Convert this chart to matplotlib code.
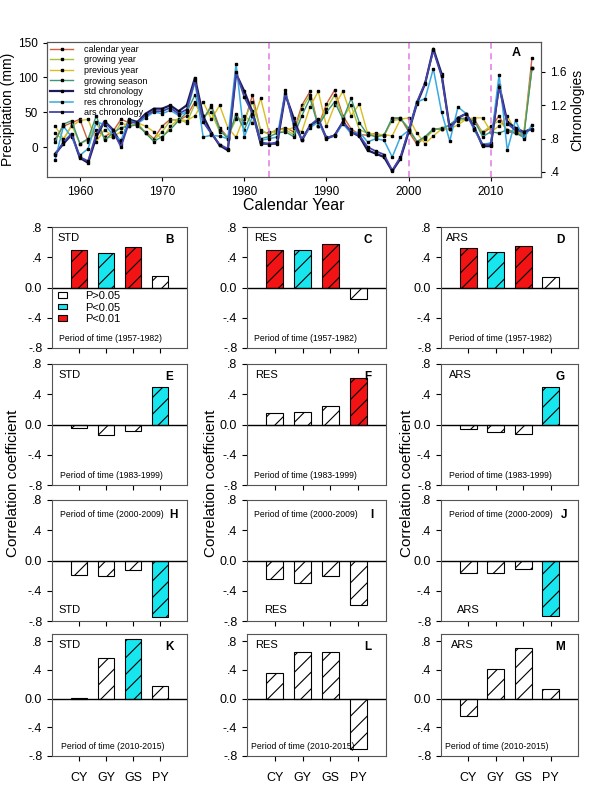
import matplotlib
matplotlib.use("Agg")
import matplotlib.pyplot as plt
from matplotlib.patches import Patch
from matplotlib.ticker import FuncFormatter

plt.rcParams['font.family'] = ['Liberation Sans', 'DejaVu Sans']
plt.rcParams['hatch.linewidth'] = 0.8

W, H = 600, 789

# --- panel A: precipitation (mm, left axis) and chronologies (right axis) ---
years = list(range(1957, 2016))
calendar_year = [12, 30, 35, 40, 8, 25, 15, 22, 40, 35, 30, 22, 12, 30, 40,
                 38, 45, 65, 40, 60, 28, 14, 45, 35, 75, 22, 20, 24, 28, 22,
                 60, 80, 30, 62, 82, 45, 26, 18, 17, 20, 16, 40, 42, 22, 4,
                 14, 26, 26, 32, 40, 42, 40, 20, 28, 45, 22, 20, 16, 128]
growing_year = [20, 10, 32, 5, 10, 35, 12, 15, 35, 30, 35, 20, 10, 22, 38,
                40, 35, 62, 45, 50, 22, 15, 40, 40, 65, 25, 18, 26, 25, 18,
                55, 75, 30, 55, 75, 42, 60, 25, 20, 15, 18, 38, 40, 28, 8,
                12, 24, 28, 30, 38, 40, 35, 22, 30, 38, 25, 22, 18, 113]
previous_year = [30, 12, 30, 38, 40, 8, 25, 15, 22, 40, 35, 30, 22, 12, 30,
                 40, 38, 45, 65, 40, 60, 28, 14, 45, 35, 70, 22, 20, 24, 28,
                 22, 58, 80, 30, 60, 80, 45, 62, 20, 18, 18, 16, 40, 42, 20,
                 5, 16, 26, 26, 32, 40, 42, 42, 22, 30, 45, 22, 20, 113]
growing_season = [8, 33, 38, 5, 12, 45, 10, 20, 28, 30, 32, 20, 8, 15, 25,
                  38, 50, 75, 40, 58, 25, 12, 48, 25, 52, 12, 15, 20, 22, 15,
                  45, 70, 30, 50, 65, 40, 70, 35, 18, 15, 17, 42, 42, 25, 8,
                  15, 26, 26, 32, 42, 40, 38, 15, 22, 20, 25, 20, 14, 113]
std_chron = [0.62, 0.74, 0.85, 0.57, 0.51, 0.82, 1.01, 0.91, 0.74, 1.03,
             1.00, 1.10, 1.16, 1.16, 1.20, 1.13, 1.20, 1.53, 1.07, 0.87,
             0.72, 0.66, 1.58, 1.37, 1.12, 0.74, 0.74, 0.74, 1.33, 1.05,
             0.78, 0.95, 1.03, 0.80, 0.84, 1.00, 0.88, 0.83, 0.66, 0.62,
             0.58, 0.41, 0.56, 0.88, 1.22, 1.46, 1.88, 1.58, 0.92, 1.05,
             1.10, 0.93, 0.71, 0.71, 1.45, 1.00, 0.93, 0.88, 0.92]
res_chron = [0.55, 0.95, 0.82, 0.60, 0.68, 1.00, 0.97, 0.85, 0.78, 1.02,
             0.98, 1.05, 1.12, 1.10, 1.14, 1.08, 1.12, 1.48, 0.82, 0.84,
             0.83, 0.80, 1.70, 0.82, 1.07, 0.78, 0.80, 0.82, 1.38, 0.95,
             0.80, 0.93, 1.00, 0.82, 0.83, 0.98, 0.86, 0.88, 0.76, 0.80,
             0.78, 0.58, 0.82, 0.90, 1.24, 1.28, 1.64, 1.12, 0.77, 1.18,
             1.10, 0.90, 0.73, 0.75, 1.57, 0.66, 1.02, 0.80, 0.97]
ars_chron = [0.60, 0.76, 0.86, 0.58, 0.53, 0.86, 1.00, 0.90, 0.70, 1.00,
             0.99, 1.08, 1.13, 1.13, 1.17, 1.10, 1.15, 1.50, 1.00, 0.86,
             0.73, 0.68, 1.60, 1.30, 1.10, 0.76, 0.73, 0.76, 1.35, 0.98,
             0.79, 0.96, 1.04, 0.81, 0.84, 1.00, 0.88, 0.84, 0.70, 0.65,
             0.61, 0.42, 0.58, 0.90, 1.24, 1.47, 1.86, 1.55, 0.92, 1.05,
             1.10, 0.92, 0.73, 0.73, 1.42, 0.98, 0.90, 0.88, 0.91]
cut_years = [1983, 2000, 2010]

# --- panels B-M: correlation coefficients (CY, GY, GS, PY) per period ---
variables = ['CY', 'GY', 'GS', 'PY']
chron_names = ['STD', 'RES', 'ARS']
periods = ['1957-1982', '1983-1999', '2000-2009', '2010-2015']
letters = [['B', 'C', 'D'], ['E', 'F', 'G'], ['H', 'I', 'J'], ['K', 'L', 'M']]
corr_std = [[0.50, 0.45, 0.54, 0.15], [-0.04, -0.14, -0.08, 0.50],
            [-0.19, -0.20, -0.13, -0.75], [0.01, 0.57, 0.83, 0.17]]
corr_res = [[0.50, 0.50, 0.58, -0.15], [0.15, 0.17, 0.24, 0.61],
            [-0.24, -0.30, -0.21, -0.59], [0.35, 0.65, 0.65, -0.70]]
corr_ars = [[0.52, 0.47, 0.55, 0.14], [-0.06, -0.10, -0.13, 0.50],
            [-0.17, -0.17, -0.11, -0.73], [-0.24, 0.41, 0.70, 0.13]]
# 0: P>0.05, 1: P<0.05, 2: P<0.01
sig_std = [[2, 1, 2, 0], [0, 0, 0, 1], [0, 0, 0, 1], [0, 0, 1, 0]]
sig_res = [[2, 1, 2, 0], [0, 0, 0, 2], [0, 0, 0, 0], [0, 0, 0, 0]]
sig_ars = [[2, 1, 2, 0], [0, 0, 0, 1], [0, 0, 0, 1], [0, 0, 0, 0]]
sig_labels = ['P>0.05', 'P<0.05', 'P<0.01']
sig_colors = ['white', '#18e6ef', '#f21414']


def box(left, top, right, bottom):
    """pixel box -> figure fraction rect"""
    return [left / W, 1 - bottom / H, (right - left) / W, (bottom - top) / H]


def short_fmt(v, _):
    if abs(v) < 1e-9:
        return '0.0'
    return f'{v:.1f}'.replace('0.', '.')


def plot_series(fig):
    ax = fig.add_axes(box(47, 42, 541, 177))
    ax2 = ax.twinx()
    mk = dict(marker='s', markersize=1.6, markerfacecolor='k', markeredgecolor='k')
    h = []
    h += ax.plot(years, calendar_year, color='#d0603e', lw=1.0, label='calendar year', **mk)
    h += ax.plot(years, growing_year, color='#a8c23a', lw=1.0, label='growing year', **mk)
    h += ax.plot(years, previous_year, color='#d8be1e', lw=1.0, label='previous year', **mk)
    h += ax.plot(years, growing_season, color='#3e9676', lw=1.0, label='growing season', **mk)
    h += ax2.plot(years, std_chron, color='#1c1c5a', lw=1.6, label='std chronology', **mk)
    h += ax2.plot(years, res_chron, color='#3aa8e2', lw=1.1, label='res chronology', **mk)
    h += ax2.plot(years, ars_chron, color='#4444aa', lw=1.3, label='ars chronology', **mk)
    for yr in cut_years:
        ax.axvline(yr, color='#e07ae0', lw=1.1, ls=(0, (4, 3)))

    ax.set_xlim(1956, 2016.1)
    ax.set_ylim(-43, 151)
    ax2.set_ylim(0.34, 1.96)
    ax.set_xticks([1960, 1970, 1980, 1990, 2000, 2010])
    ax.set_yticks([0, 50, 100, 150])
    ax2.set_yticks([0.4, 0.8, 1.2, 1.6])
    ax2.yaxis.set_major_formatter(FuncFormatter(short_fmt))
    for a in (ax, ax2):
        a.tick_params(direction='out', length=3, labelsize=8.5, width=0.8)
        for s in a.spines.values():
            s.set_color('#555555')
    ax.set_ylabel('Precipitation (mm)', fontsize=10, labelpad=2)
    ax2.set_ylabel('Chronologies', fontsize=10, labelpad=3)
    ax.set_xlabel('Calendar Year', fontsize=11.5, labelpad=0)
    ax2.text(0.95, 0.92, 'A', transform=ax.transAxes, fontsize=9,
             fontweight='bold', ha='center', va='center')
    ax2.legend(handles=h, loc='upper left', bbox_to_anchor=(-0.005, 1.02),
               frameon=False, fontsize=6.5, labelspacing=0.18,
               handlelength=2.6, handletextpad=1.2, borderaxespad=0.2)


def plot_bars(fig):
    cols = [(52, 187), (247, 386), (441, 578)]
    rows = [(227, 348), (364, 485), (500, 621), (634, 756)]
    row_top = [0.8, 0.8, 0.8, 0.9]
    corr = [corr_std, corr_res, corr_ars]
    sig = [sig_std, sig_res, sig_ars]
    xpos = [1, 2, 3, 4]
    name_x = [[0.04, 0.05, 0.04], [0.05, 0.06, 0.06],
              [0.05, 0.12, 0.12], [0.05, 0.06, 0.07]]
    per_x = [[0.05, 0.05, 0.06], [0.06, 0.05, 0.06],
             [0.06, 0.05, 0.06], [0.07, 0.03, 0.03]]
    for r, (top, bottom) in enumerate(rows):
        for c, (left, right) in enumerate(cols):
            ax = fig.add_axes(box(left, top, right, bottom))
            vals = corr[c][r]
            colors = [sig_colors[s] for s in sig[c][r]]
            ax.bar(xpos, vals, width=0.62, color=colors, edgecolor='k',
                   linewidth=0.8, hatch='//')
            ax.axhline(0, color='k', lw=1.0)
            ax.set_xlim(0, 5)
            ax.set_ylim(-0.8, row_top[r])
            ax.set_yticks([0.8, 0.4, 0.0, -0.4, -0.8])
            ax.yaxis.set_major_formatter(FuncFormatter(short_fmt))
            ax.set_xticks(xpos)
            if r == 3:
                ax.set_xticklabels(variables)
            else:
                ax.set_xticklabels([])
            ax.tick_params(direction='out', length=3.5, labelsize=9, width=0.8)
            ax.tick_params(axis='x', labelsize=9, pad=8)
            for s in ax.spines.values():
                s.set_color('#555555')
            period = 'Period of time (' + periods[r] + ')'
            if r == 2:
                ax.text(name_x[r][c], 0.09, chron_names[c], transform=ax.transAxes,
                        fontsize=8, va='center')
                ax.text(per_x[r][c], 0.88, period, transform=ax.transAxes,
                        fontsize=6.2, va='center')
                ax.text(0.9, 0.88, letters[r][c], transform=ax.transAxes,
                        fontsize=8.5, fontweight='bold', ha='center', va='center')
            else:
                ax.text(name_x[r][c], 0.91, chron_names[c], transform=ax.transAxes,
                        fontsize=8, va='center')
                ax.text(per_x[r][c], 0.08, period, transform=ax.transAxes,
                        fontsize=6.2, va='center')
                ax.text(0.87, 0.89, letters[r][c], transform=ax.transAxes,
                        fontsize=8.5, fontweight='bold', ha='center', va='center')
            if r == 0 and c == 0:
                handles = [Patch(facecolor=col, edgecolor='k', linewidth=0.8)
                           for col in sig_colors]
                ax.legend(handles, sig_labels, loc='upper left',
                          bbox_to_anchor=(0.0, 0.52), frameon=False,
                          fontsize=8, handlelength=0.8, handleheight=0.4,
                          handletextpad=1.6, labelspacing=0.12,
                          borderaxespad=0.15)
    for x in (13, 211, 407):
        fig.text(x / W, 1 - 483 / H, 'Correlation coefficient', rotation=90,
                 fontsize=11, ha='center', va='center')


def main():
    fig = plt.figure(figsize=(W / 100, H / 100), dpi=100)
    plot_series(fig)
    plot_bars(fig)
    fig.savefig('out.png', dpi=100)


if __name__ == "__main__":
    main()
